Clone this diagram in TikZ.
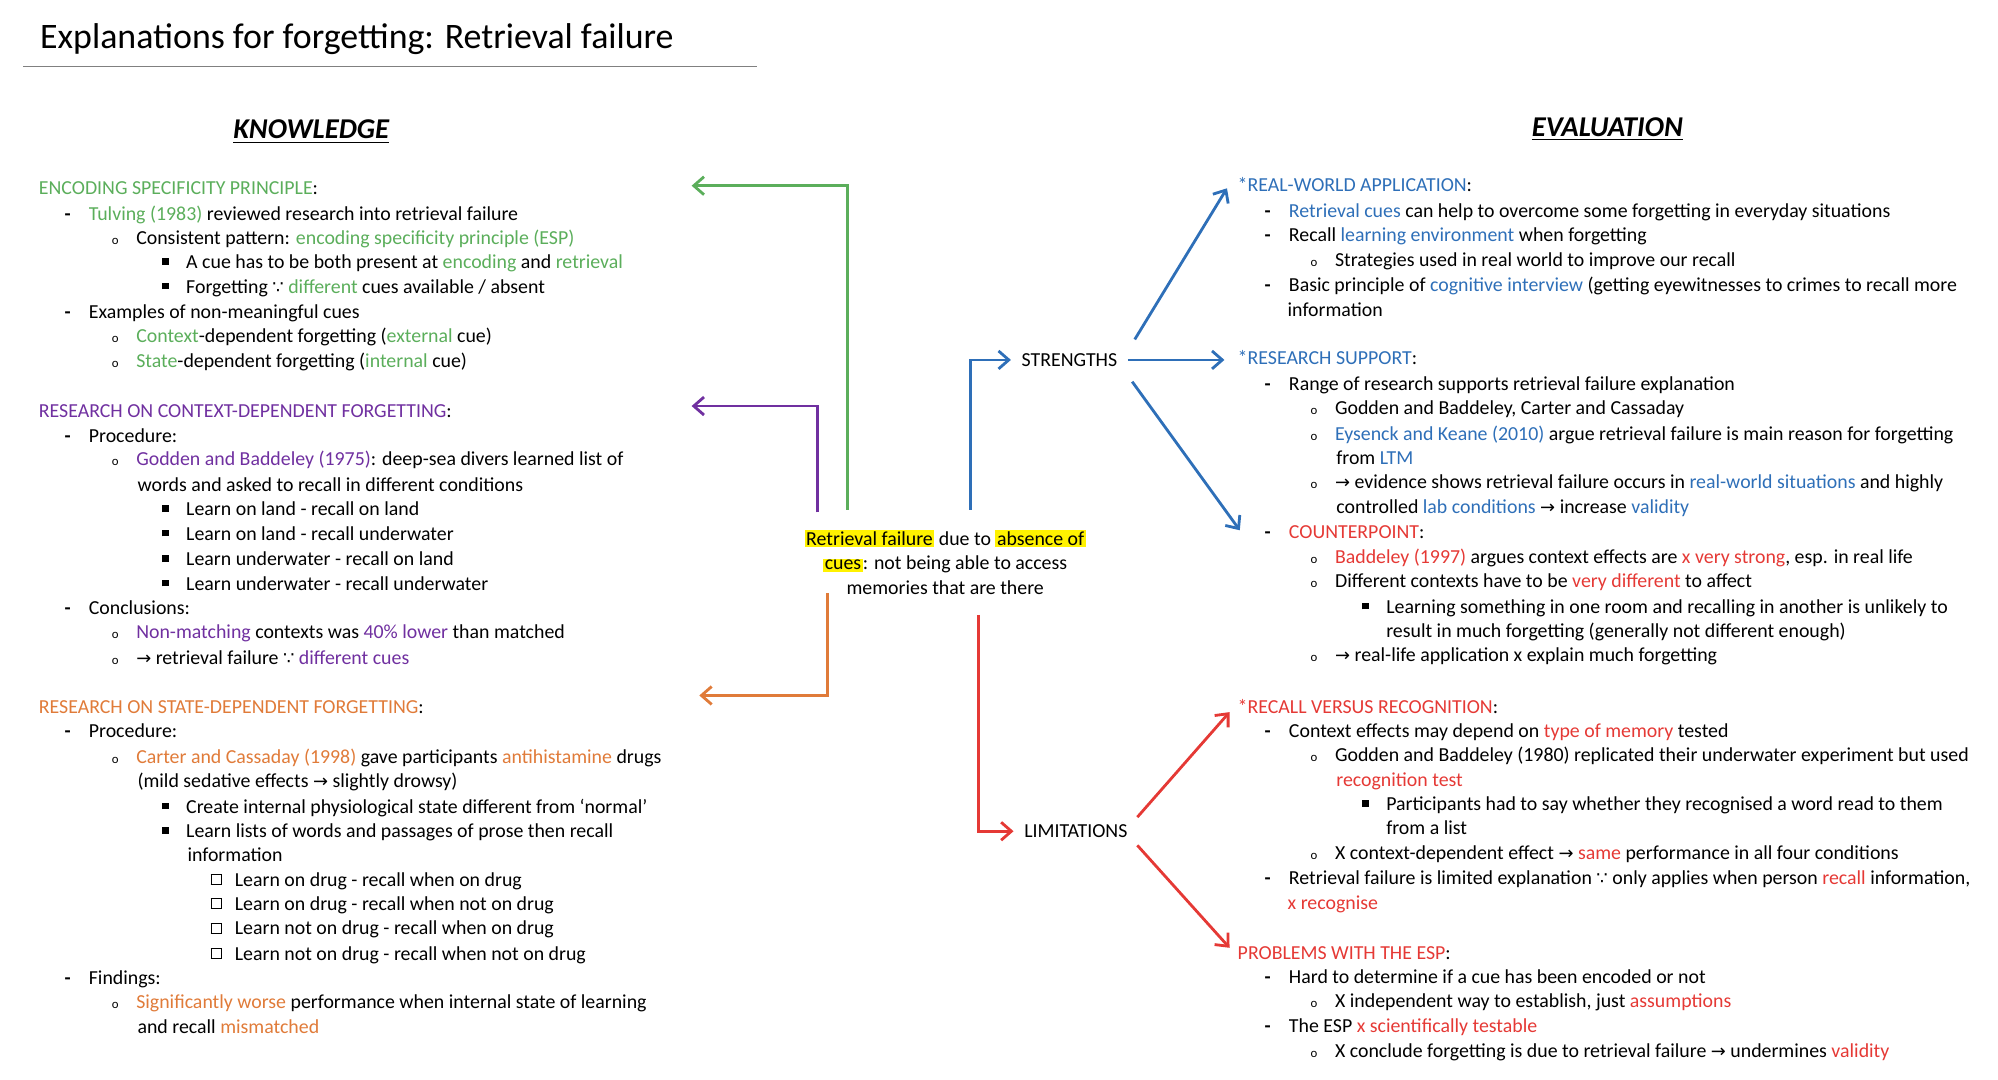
\documentclass[tikz,border=0pt]{standalone}
\usepackage{fontspec}
\setmainfont{Carlito}
\newfontfamily\sym{DejaVu Sans}
\usetikzlibrary{arrows.meta}
\definecolor{kgreen}{HTML}{5BAE5B}
\definecolor{kpurple}{HTML}{7030A0}
\definecolor{korange}{HTML}{E07B39}
\definecolor{kblue}{HTML}{2E6FB8}
\definecolor{kred}{HTML}{E53935}
\definecolor{hl}{HTML}{FFF200}
\newcommand\G[1]{\textcolor{kgreen}{#1}}
\newcommand\Pu[1]{\textcolor{kpurple}{#1}}
\newcommand\Or[1]{\textcolor{korange}{#1}}
\newcommand\Bl[1]{\textcolor{kblue}{#1}}
\newcommand\Rd[1]{\textcolor{kred}{#1}}
\newcommand\since{{\sym\scriptsize ∵}}
\newcommand\arr{{\sym\scriptsize →}}
\newcommand\hil[1]{{\setlength{\fboxsep}{0.6pt}\colorbox{hl}{#1}}}
% bullet marks
\newcommand\mdsh{\textbf{-}}
\newcommand\mcirc{{\tiny o}}
\newcommand\msq{\rule[0.4ex]{2.6pt}{2.6pt}}
\newcommand\mbx{\raisebox{0.2ex}{\fboxsep=0pt\fbox{\rule{0pt}{3.6pt}\hspace{3.6pt}}}}
% one line of text, and one bulleted line
\newcommand\tl[3]{\node[txt] at (#1,#2) {#3};}
\newcommand\itm[4]{\node[txt] at (#1,#3) {#2}; \node[txt] at ({#1+19},#3) {#4};}
\begin{document}
\begin{tikzpicture}[x=0.5pt, y=-0.5pt,
    txt/.style={anchor=mid west, inner sep=0pt, font=\fontsize{7.75}{9}\selectfont},
    conn/.style={line width=1.1pt, -{Straight Barb[length=4pt,width=7pt]}},
    head/.style={font=\fontsize{11.2}{13}\selectfont\bfseries\itshape}]
    \useasboundingbox (0,0) rectangle (1560,843);

    % Titel
    \node[anchor=mid west, inner sep=0pt, font=\fontsize{14}{16}\selectfont] (title) at (31,33) {Explanations for forgetting: Retrieval failure};
    \draw[gray, thin] (18,52) -- (591,52);
    \node[head] (know) at (243,103) {\underline{KNOWLEDGE}};
    \node[head] (eval) at (1255,101) {\underline{EVALUATION}};

    % Knowledge
    \tl{30}{147}{\G{ENCODING SPECIFICITY PRINCIPLE}:}
    \itm{50}{\mdsh}{167}{\G{Tulving (1983)} reviewed research into retrieval failure}
    \itm{87}{\mcirc}{186}{Consistent pattern: \G{encoding specificity principle (ESP)}}
    \itm{126}{\msq}{205}{A cue has to be both present at \G{encoding} and \G{retrieval}}
    \itm{126}{\msq}{224}{Forgetting \since\ \G{different} cues available / absent}
    \itm{50}{\mdsh}{244}{Examples of non-meaningful cues}
    \itm{87}{\mcirc}{263}{\G{Context}-dependent forgetting (\G{external} cue)}
    \itm{87}{\mcirc}{282}{\G{State}-dependent forgetting (\G{internal} cue)}

    \tl{30}{321}{\Pu{RESEARCH ON CONTEXT-DEPENDENT FORGETTING}:}
    \itm{50}{\mdsh}{341}{Procedure:}
    \itm{87}{\mcirc}{359}{\Pu{Godden and Baddeley (1975)}: deep-sea divers learned list of}
    \tl{107}{379}{words and asked to recall in different conditions}
    \itm{126}{\msq}{398}{Learn on land - recall on land}
    \itm{126}{\msq}{417}{Learn on land - recall underwater}
    \itm{126}{\msq}{437}{Learn underwater - recall on land}
    \itm{126}{\msq}{456}{Learn underwater - recall underwater}
    \itm{50}{\mdsh}{475}{Conclusions:}
    \itm{87}{\mcirc}{494}{\Pu{Non-matching} contexts was \Pu{40\% lower} than matched}
    \itm{87}{\mcirc}{514}{\arr\ retrieval failure \since\ \Pu{different cues}}

    \tl{30}{552}{\Or{RESEARCH ON STATE-DEPENDENT FORGETTING}:}
    \itm{50}{\mdsh}{571}{Procedure:}
    \itm{87}{\mcirc}{591}{\Or{Carter and Cassaday (1998)} gave participants \Or{antihistamine} drugs}
    \tl{107}{610}{(mild sedative effects \arr\ slightly drowsy)}
    \itm{126}{\msq}{630}{Create internal physiological state different from `normal'}
    \itm{126}{\msq}{649}{Learn lists of words and passages of prose then recall}
    \tl{146}{668}{information}
    \itm{164}{\mbx}{687}{Learn on drug - recall when on drug}
    \itm{164}{\mbx}{706}{Learn on drug - recall when not on drug}
    \itm{164}{\mbx}{725}{Learn not on drug - recall when on drug}
    \itm{164}{\mbx}{745}{Learn not on drug - recall when not on drug}
    \itm{50}{\mdsh}{764}{Findings:}
    \itm{87}{\mcirc}{783}{\Or{Significantly worse} performance when internal state of learning}
    \tl{107}{802}{and recall \Or{mismatched}}

    % Mitte
    \node[align=center, inner sep=0pt, font=\fontsize{7.75}{9.6}\selectfont] (centre) at (738,439)
      {\hil{Retrieval failure} due to \hil{absence of}\\ \hil{cues}: not being able to access\\ memories that are there};
    \node[txt, anchor=center] (strengths) at (835,281) {STRENGTHS};
    \node[txt, anchor=center] (limitations) at (840,649) {LIMITATIONS};

    % Evaluation
    \tl{966}{145}{\Bl{*REAL-WORLD APPLICATION}:}
    \itm{987}{\mdsh}{165}{\Bl{Retrieval cues} can help to overcome some forgetting in everyday situations}
    \itm{987}{\mdsh}{184}{Recall \Bl{learning environment} when forgetting}
    \itm{1023}{\mcirc}{203}{Strategies used in real world to improve our recall}
    \itm{987}{\mdsh}{223}{Basic principle of \Bl{cognitive interview} (getting eyewitnesses to crimes to recall more}
    \tl{1005}{242}{information}

    \tl{966}{280}{\Bl{*RESEARCH SUPPORT}:}
    \itm{987}{\mdsh}{300}{Range of research supports retrieval failure explanation}
    \itm{1023}{\mcirc}{319}{Godden and Baddeley, Carter and Cassaday}
    \itm{1023}{\mcirc}{339}{\Bl{Eysenck and Keane (2010)} argue retrieval failure is main reason for forgetting}
    \tl{1043}{358}{from \Bl{LTM}}
    \itm{1023}{\mcirc}{377}{\arr\ evidence shows retrieval failure occurs in \Bl{real-world situations} and highly}
    \tl{1043}{396}{controlled \Bl{lab conditions} \arr\ increase \Bl{validity}}
    \itm{987}{\mdsh}{416}{\Rd{COUNTERPOINT}:}
    \itm{1023}{\mcirc}{435}{\Rd{Baddeley (1997)} argues context effects are \Rd{x very strong}, esp. in real life}
    \itm{1023}{\mcirc}{454}{Different contexts have to be \Rd{very different} to affect}
    \itm{1063}{\msq}{474}{Learning something in one room and recalling in another is unlikely to}
    \tl{1082}{493}{result in much forgetting (generally not different enough)}
    \itm{1023}{\mcirc}{512}{\arr\ real-life application x explain much forgetting}

    \tl{966}{552}{\Rd{*RECALL VERSUS RECOGNITION}:}
    \itm{987}{\mdsh}{571}{Context effects may depend on \Rd{type of memory} tested}
    \itm{1023}{\mcirc}{590}{Godden and Baddeley (1980) replicated their underwater experiment but used}
    \tl{1043}{609}{\Rd{recognition test}}
    \itm{1063}{\msq}{628}{Participants had to say whether they recognised a word read to them}
    \tl{1082}{647}{from a list}
    \itm{1023}{\mcirc}{666}{X context-dependent effect \arr\ \Rd{same} performance in all four conditions}
    \itm{987}{\mdsh}{686}{Retrieval failure is limited explanation \since\ only applies when person \Rd{recall} information,}
    \tl{1005}{705}{\Rd{x recognise}}

    \tl{966}{744}{\Rd{PROBLEMS WITH THE ESP}:}
    \itm{987}{\mdsh}{763}{Hard to determine if a cue has been encoded or not}
    \itm{1023}{\mcirc}{782}{X independent way to establish, just \Rd{assumptions}}
    \itm{987}{\mdsh}{801}{The ESP \Rd{x scientifically testable}}
    \itm{1023}{\mcirc}{821}{X conclude forgetting is due to retrieval failure \arr\ undermines \Rd{validity}}

    % Pfeile
    \coordinate (kesp) at (540,145);
    \coordinate (kcdf) at (540,317);
    \coordinate (ksdf) at (546,543);
    \coordinate (erwa) at (958,147);
    \coordinate (ers) at (956,281);
    \coordinate (ecp) at (968,414);
    \coordinate (erv) at (960,556);
    \coordinate (eesp) at (960,740);
    \draw[conn, kgreen] (662,398) |- (kesp);
    \draw[conn, kpurple] (638,400) |- (kcdf);
    \draw[conn, korange] (646,463) |- (ksdf);
    \draw[conn, kblue] (758,398) |- ([xshift=-4pt]strengths.west);
    \draw[conn, kred] (764,480) |- ([xshift=-4pt]limitations.west);
    \draw[conn, kblue] (886,265) -- (erwa);
    \draw[conn, kblue] ([xshift=4pt]strengths.east) -- (ers);
    \draw[conn, kblue] (884,298) -- (ecp);
    \draw[conn, kred] (888,638) -- (erv);
    \draw[conn, kred] (888,660) -- (eesp);
\end{tikzpicture}
\end{document}
